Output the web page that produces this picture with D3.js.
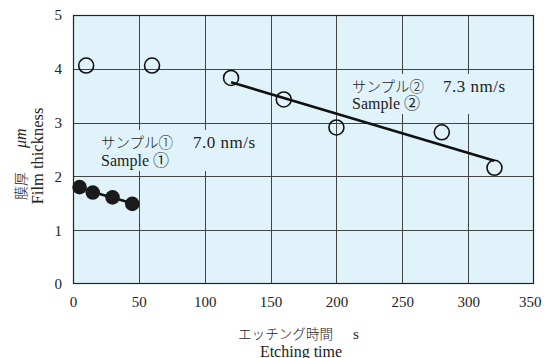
<!DOCTYPE html>
<html>
<head>
<meta charset="utf-8">
<script src="https://cdn.jsdelivr.net/npm/d3@7"></script>
<style>
  html, body { margin: 0; padding: 0; background: #fff; }
  svg text { font-family: "Liberation Serif", "DejaVu Serif", "Noto Sans CJK JP", serif; fill: #222; }
  .jp { font-family: "Noto Sans CJK JP", sans-serif; font-weight: 300; }
</style>
</head>
<body>
<svg id="chart" width="544" height="358"></svg>
<script>
// Etching time (s) vs film thickness (µm)
const xTicks = [0, 50, 100, 150, 200, 250, 300, 350];
const yTicks = [0, 1, 2, 3, 4, 5];

// Sample ① (filled markers)
const sample1Time = [5, 15, 30, 45];
const sample1Thick = [1.80, 1.70, 1.61, 1.49];

// Sample ② (open markers)
const sample2Time = [10, 60, 120, 160, 200, 280, 320];
const sample2Thick = [4.06, 4.06, 3.83, 3.43, 2.91, 2.82, 2.16];

// Fitted etch-rate lines: [time, thickness] end points
const fit1Time = [5, 45];
const fit1Thick = [1.78, 1.50];
const fit2Time = [120, 320];
const fit2Thick = [3.75, 2.29];

const rateLabel1 = ["サンプル①", "7.0 nm/s", "Sample ①"];
const rateLabel2 = ["サンプル②", "7.3 nm/s", "Sample ②"];

const svg = d3.select("#chart");
const plotL = 73, plotR = 534, plotT = 15, plotB = 284;
const plotFill = "#e0f3fa";

const x = d3.scaleLinear().domain([0, 350]).range([plotL, plotR]);
const y = d3.scaleLinear().domain([0, 5]).range([plotB, plotT]);

// plot background
svg.append("rect")
  .attr("x", plotL).attr("y", plotT)
  .attr("width", plotR - plotL).attr("height", plotB - plotT)
  .attr("fill", plotFill);

// grid
const grid = svg.append("g").attr("stroke", "#444").attr("stroke-width", 1);
grid.selectAll("line.v").data(xTicks.slice(1, -1)).join("line")
  .attr("x1", d => Math.round(x(d)) + 0.5).attr("x2", d => Math.round(x(d)) + 0.5)
  .attr("y1", plotT).attr("y2", plotB);
grid.selectAll("line.h").data(yTicks.slice(1, -1)).join("line")
  .attr("x1", plotL).attr("x2", plotR)
  .attr("y1", d => Math.round(y(d)) + 0.5).attr("y2", d => Math.round(y(d)) + 0.5);

// frame
svg.append("rect")
  .attr("x", plotL + 0.5).attr("y", plotT + 0.5)
  .attr("width", plotR - plotL - 1).attr("height", plotB - plotT - 1)
  .attr("fill", "none").attr("stroke", "#222").attr("stroke-width", 1.2);

// axes (labels only)
const xAxis = svg.append("g").attr("transform", `translate(0,${plotB})`)
  .call(d3.axisBottom(x).tickValues(xTicks).tickFormat(d3.format("d")).tickSize(0).tickPadding(12));
const yAxis = svg.append("g").attr("transform", `translate(${plotL},0)`)
  .call(d3.axisLeft(y).tickValues(yTicks).tickFormat(d3.format("d")).tickSize(0).tickPadding(11));
[xAxis, yAxis].forEach(a => {
  a.select(".domain").remove();
  a.selectAll("text").attr("font-size", 15).attr("fill", "#222")
    .style("font-family", '"Liberation Serif", serif');
});
// keep the last x label inside the page edge
xAxis.selectAll(".tick").filter(d => d === xTicks[xTicks.length - 1])
  .select("text").attr("text-anchor", "end").attr("dx", 7);

// rate labels with a plain backing that hides the grid
function rateLabel(lbl, x0, base1, xRate, base2) {
  const g = svg.append("g");
  const bg = g.append("rect").attr("fill", plotFill);
  const t1 = g.append("text").attr("class", "jp").attr("x", x0).attr("y", base1)
    .attr("font-size", 14.5).text(lbl[0]);
  const t2 = g.append("text").attr("x", xRate).attr("y", base1)
    .attr("font-size", 17).attr("letter-spacing", 0.5).text(lbl[1]);
  const t3 = g.append("text").attr("x", x0).attr("y", base2)
    .attr("font-size", 16).text(lbl[2]);
  const boxes = [t1, t2, t3].map(t => t.node().getBBox());
  const x1 = d3.min(boxes, b => b.x) - 3, x2 = d3.max(boxes, b => b.x + b.width) + 3;
  const y1 = d3.min(boxes, b => b.y) - 1, y2 = d3.max(boxes, b => b.y + b.height) + 1;
  bg.attr("x", x1).attr("y", y1).attr("width", x2 - x1).attr("height", y2 - y1);
}
rateLabel(rateLabel1, 101, 148, 193, 166);
rateLabel(rateLabel2, 352, 92, 443, 109);

// fit lines
const line = d3.line().x(d => x(d[0])).y(d => y(d[1]));
svg.append("path").datum(d3.zip(fit1Time, fit1Thick))
  .attr("d", line).attr("fill", "none").attr("stroke", "#111").attr("stroke-width", 2.6);
svg.append("path").datum(d3.zip(fit2Time, fit2Thick))
  .attr("d", line).attr("fill", "none").attr("stroke", "#111").attr("stroke-width", 2.6);

// markers
svg.append("g").selectAll("circle").data(d3.zip(sample2Time, sample2Thick)).join("circle")
  .attr("cx", d => x(d[0])).attr("cy", d => y(d[1])).attr("r", 7.5)
  .attr("fill", "none").attr("stroke", "#111").attr("stroke-width", 1.6);
svg.append("g").selectAll("circle").data(d3.zip(sample1Time, sample1Thick)).join("circle")
  .attr("cx", d => x(d[0])).attr("cy", d => y(d[1])).attr("r", 7.3)
  .attr("fill", "#1a1a1a");

// x-axis title
svg.append("text").attr("class", "jp").attr("x", 238).attr("y", 338.5)
  .attr("font-size", 13.6).text("エッチング時間");
svg.append("text").attr("x", 353).attr("y", 339).attr("font-size", 15).text("s");
svg.append("text").attr("x", 301).attr("y", 356.5).attr("text-anchor", "middle")
  .attr("font-size", 16).text("Etching time");

// y-axis title
svg.append("text").attr("class", "jp").attr("transform", "translate(26,200) rotate(-90)")
  .attr("font-size", 14).text("膜厚");
svg.append("text").attr("transform", "translate(26,148) rotate(-90)")
  .attr("font-size", 16).attr("font-style", "italic").text("μm");
svg.append("text").attr("transform", "translate(43,156) rotate(-90)")
  .attr("text-anchor", "middle").attr("font-size", 16.5).text("Film thickness");
</script>
</body>
</html>
